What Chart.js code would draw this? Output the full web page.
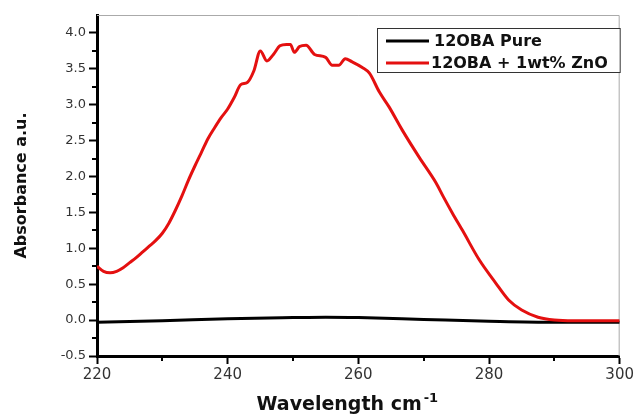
<!doctype html>
<html lang="en">
<head>
<meta charset="utf-8">
<style>
    html, body { margin: 0; padding: 0; background: #fff; }
    #wrap { width: 636px; height: 419px; }
</style>
</head>
<body>
    <div id="wrap">
        <canvas id="myChart" width="636" height="419"></canvas>
    </div>

    <script src="https://cdn.jsdelivr.net/npm/chart.js"></script>

    <script>
    // 12OBA + 1wt% ZnO
    const zno_x = [220, 221, 222, 223, 224, 225, 226, 227, 228, 229, 230, 231, 232, 233, 234, 235, 236, 237, 238, 239,
                   240, 241, 242, 243, 244, 245, 246, 247, 248, 249, 249.6, 250.2, 251, 252, 253.3, 255, 256, 257, 258, 259,
                   260.6, 261.7, 263.2, 264.7, 266.7, 269.3, 271.9, 273, 274.4, 276, 278.5, 281, 283, 285, 287.5, 290, 293, 300];
    const zno_y = [0.75, 0.68, 0.66, 0.68, 0.73, 0.80, 0.87, 0.95, 1.03, 1.11, 1.21, 1.35, 1.53, 1.73, 1.95, 2.15, 2.34, 2.53, 2.68, 2.82,
                   2.94, 3.10, 3.28, 3.31, 3.47, 3.75, 3.61, 3.70, 3.82, 3.84, 3.84, 3.73, 3.81, 3.83, 3.70, 3.66, 3.55, 3.55, 3.64, 3.60,
                   3.52, 3.44, 3.18, 2.97, 2.65, 2.27, 1.91, 1.72, 1.49, 1.24, 0.84, 0.52, 0.28, 0.14, 0.04, 0.0, -0.01, -0.01];

    // 12OBA Pure
    const pure_x = [220, 230, 240, 250, 255, 260, 270, 280, 290, 300];
    const pure_y = [-0.03, -0.01, 0.02, 0.035, 0.04, 0.035, 0.01, -0.015, -0.03, -0.03];

    const series_labels = ['12OBA Pure', '12OBA + 1wt% ZnO'];
    const x_title = 'Wavelength cm';
    const x_title_sup = '-1';
    const y_title = 'Absorbance a.u.';

    function toPoints(xs, ys) {
        return xs.map((x, i) => ({ x: x, y: ys[i] }));
    }

    // frame, minor ticks, legend box and x title with superscript
    const extras = {
        id: 'extras',
        beforeDatasetsDraw(chart) {
            const { ctx, chartArea: a } = chart;
            ctx.save();
            ctx.strokeStyle = '#aaa';
            ctx.lineWidth = 1;
            ctx.beginPath();
            ctx.moveTo(a.left, a.top + 0.5);
            ctx.lineTo(a.right - 0.5, a.top + 0.5);
            ctx.lineTo(a.right - 0.5, a.bottom);
            ctx.stroke();
            ctx.restore();
        },
        afterDraw(chart) {
            const { ctx, chartArea: a, scales } = chart;
            ctx.save();
            // minor ticks
            ctx.strokeStyle = '#000';
            ctx.lineWidth = 2;
            for (let v = 230; v < 300; v += 20) {
                const px = Math.round(scales.x.getPixelForValue(v));
                ctx.beginPath();
                ctx.moveTo(px, a.bottom);
                ctx.lineTo(px, a.bottom + 5);
                ctx.stroke();
            }
            for (let v = -0.25; v < 4.2; v += 0.5) {
                const py = Math.round(scales.y.getPixelForValue(v));
                ctx.beginPath();
                ctx.moveTo(a.left - 5, py);
                ctx.lineTo(a.left, py);
                ctx.stroke();
            }

            // legend
            const bx = 377, by = a.top + 13, bw = a.right + 1 - bx, bh = 45;
            ctx.fillStyle = '#fff';
            ctx.fillRect(bx, by, bw, bh);
            ctx.strokeStyle = '#333';
            ctx.lineWidth = 1;
            ctx.strokeRect(bx + 0.5, by + 0.5, bw - 1, bh - 1);
            const order = [0, 1];
            order.forEach((di, row) => {
                const ds = chart.data.datasets[di];
                const cy = by + 13 + row * 22;
                ctx.strokeStyle = ds.borderColor;
                ctx.lineWidth = 3;
                ctx.beginPath();
                ctx.moveTo(386, cy);
                ctx.lineTo(429, cy);
                ctx.stroke();
                ctx.fillStyle = '#111';
                ctx.font = 'bold 16px "DejaVu Sans"';
                ctx.textBaseline = 'middle';
                ctx.textAlign = 'left';
                ctx.fillText(ds.label, row === 0 ? 434 : 431, cy + 1);
            });

            // x title
            ctx.fillStyle = '#111';
            ctx.font = 'bold 19px "DejaVu Sans"';
            ctx.textBaseline = 'alphabetic';
            const w1 = ctx.measureText(x_title).width;
            ctx.font = 'bold 13px "DejaVu Sans"';
            const w2 = ctx.measureText(x_title_sup).width;
            const x0 = (a.left + a.right) / 2 - 11 - (w1 + w2 + 2) / 2;
            ctx.font = 'bold 19px "DejaVu Sans"';
            ctx.fillText(x_title, x0, 410);
            ctx.font = 'bold 13px "DejaVu Sans"';
            ctx.fillText(x_title_sup, x0 + w1 + 2, 402);
            ctx.restore();
        }
    };

    const ctx = document.getElementById('myChart');

    new Chart(ctx, {
        type: 'line',
        data: {
            datasets: [{
                label: series_labels[0],
                data: toPoints(pure_x, pure_y),
                borderColor: '#000',
                borderWidth: 3,
                pointRadius: 0,
                cubicInterpolationMode: 'monotone',
                order: 1
            }, {
                label: series_labels[1],
                data: toPoints(zno_x, zno_y),
                borderColor: 'rgb(228,16,16)',
                borderWidth: 3,
                pointRadius: 0,
                cubicInterpolationMode: 'monotone',
                order: 0
            }]
        },
        plugins: [extras],
        options: {
            responsive: false,
            animation: false,
            layout: { padding: { left: 0, top: 15, right: 15, bottom: 0 } },
            scales: {
                x: {
                    type: 'linear',
                    min: 220,
                    max: 300,
                    afterFit: s => { s.height = 63; },
                    ticks: {
                        stepSize: 20,
                        maxRotation: 0,
                        padding: 2,
                        color: '#333',
                        font: { family: 'DejaVu Sans', size: 15 }
                    },
                    grid: {
                        drawOnChartArea: false,
                        tickLength: 8,
                        tickWidth: 2,
                        tickColor: '#000'
                    },
                    border: { color: '#000', width: 3 }
                },
                y: {
                    min: -0.5,
                    max: 4.25,
                    afterFit: s => { s.width = 97; },
                    afterBuildTicks: s => {
                        s.ticks = s.ticks.filter(t => Math.abs(t.value * 2 - Math.round(t.value * 2)) < 1e-6);
                    },
                    ticks: {
                        stepSize: 0.5,
                        padding: 3,
                        color: '#333',
                        font: { family: 'DejaVu Sans', size: 13 },
                        callback: v => v.toFixed(1)
                    },
                    grid: {
                        drawOnChartArea: false,
                        tickLength: 8,
                        tickWidth: 2,
                        tickColor: '#000'
                    },
                    border: { color: '#000', width: 3 },
                    title: {
                        display: true,
                        text: y_title,
                        color: '#111',
                        padding: { top: 12, bottom: 0 },
                        font: { family: 'DejaVu Sans', size: 16, weight: 'bold' }
                    }
                }
            },
            plugins: {
                legend: { display: false },
                tooltip: { enabled: false }
            }
        }
    });
    </script>
</body>
</html>
